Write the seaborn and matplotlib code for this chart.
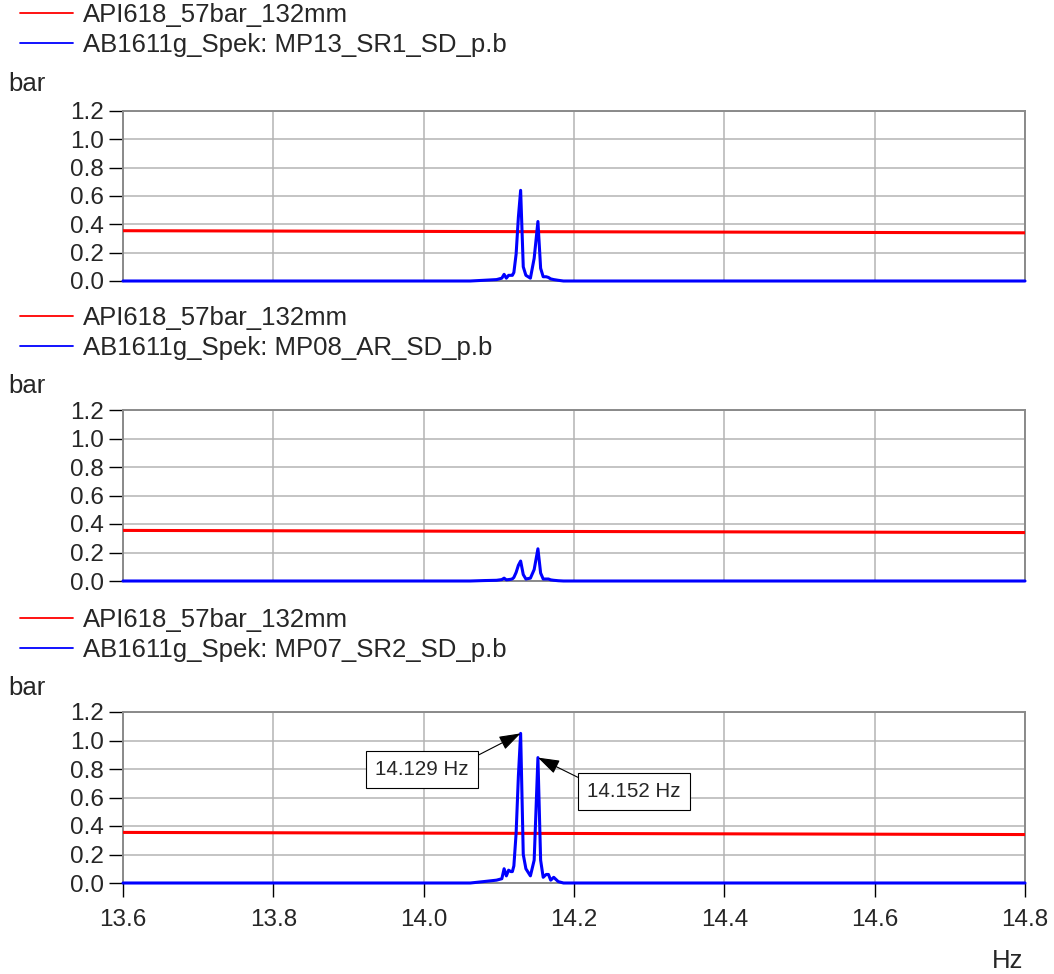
import matplotlib
matplotlib.use("Agg")
import matplotlib.pyplot as plt
import seaborn as sns
import pandas as pd

# ---------------- data ----------------
limit_freq = [13.6, 14.8]
limit_vals = [0.355, 0.340]          # API618_57bar_132mm

freq = [13.600, 14.062, 14.080, 14.097, 14.104, 14.107, 14.110, 14.113, 14.116,
        14.118, 14.120, 14.123, 14.126, 14.129, 14.1325, 14.136, 14.142, 14.147,
        14.152, 14.1556, 14.159, 14.163, 14.166, 14.169, 14.173, 14.179, 14.186, 14.800]

mp13 = [0, 0, 0.005, 0.01, 0.02, 0.047, 0.02, 0.04, 0.04, 0.04, 0.06, 0.19, 0.45,
        0.64, 0.10, 0.04, 0.02, 0.16, 0.42, 0.09, 0.03, 0.03, 0.025, 0.015, 0.01,
        0.005, 0, 0]
mp08 = [0, 0, 0.003, 0.005, 0.01, 0.02, 0.008, 0.01, 0.012, 0.015, 0.025, 0.06,
        0.11, 0.14, 0.045, 0.014, 0.02, 0.08, 0.226, 0.056, 0.014, 0.014, 0.014,
        0.008, 0.005, 0.002, 0, 0]
mp07 = [0, 0, 0.01, 0.02, 0.03, 0.10, 0.05, 0.09, 0.08, 0.08, 0.12, 0.35, 0.75,
        1.05, 0.20, 0.10, 0.05, 0.16, 0.88, 0.16, 0.04, 0.06, 0.06, 0.02, 0.04,
        0.01, 0, 0]

limit_label = "API618_57bar_132mm"
series_labels = ["AB1611g_Spek: MP13_SR1_SD_p.b",
                 "AB1611g_Spek: MP08_AR_SD_p.b",
                 "AB1611g_Spek: MP07_SR2_SD_p.b"]
series_values = [mp13, mp08, mp07]

x_ticks = [13.6, 13.8, 14.0, 14.2, 14.4, 14.6, 14.8]
y_ticks = [0.0, 0.2, 0.4, 0.6, 0.8, 1.0, 1.2]
annotations = [("14.129 Hz", 14.129, 1.05, 13.998, 0.797, (1, 1)),
               ("14.152 Hz", 14.152, 0.88, 14.280, 0.642, (0, 1))]

# ---------------- style ----------------
sns.set_style("white")
plt.rcParams['font.family'] = ['Liberation Sans', 'DejaVu Sans']

W, H = 1054, 974
fig = plt.figure(figsize=(W / 100, H / 100), dpi=100)

left_px, right_px = 123, 1025
panel_tops = [111, 410, 712]
panel_bots = [281, 581, 883]
legend_tops = [3, 306, 608]
bar_y = [84, 386, 688]

FS_LEG = 18.5
FS_TICK = 17.5

for i in range(3):
    ax = fig.add_axes([left_px / W, 1 - panel_bots[i] / H,
                       (right_px - left_px) / W, (panel_bots[i] - panel_tops[i]) / H])
    df_lim = pd.DataFrame({"f": limit_freq, "v": limit_vals})
    df_s = pd.DataFrame({"f": freq, "v": series_values[i]})
    sns.lineplot(data=df_lim, x="f", y="v", ax=ax, color="#ff0000", linewidth=2.2,
                 label=limit_label, estimator=None, sort=False, zorder=3)
    sns.lineplot(data=df_s, x="f", y="v", ax=ax, color="#0000ff", linewidth=2.2,
                 label=series_labels[i], estimator=None, sort=False, zorder=4,
                 clip_on=False)
    ax.set_xlim(13.6, 14.8)
    ax.set_ylim(0, 1.2)
    ax.set_xticks(x_ticks)
    ax.set_yticks(y_ticks)
    ax.set_yticklabels([f"{v:.1f}" for v in y_ticks])
    ax.set_xlabel("")
    ax.set_ylabel("")
    ax.grid(True, color="#b4b4b4", linewidth=1.1)
    ax.set_axisbelow(True)
    for sp in ax.spines.values():
        sp.set_color("#8a8a8a")
        sp.set_linewidth(1.4)
    ax.tick_params(axis="y", direction="out", length=10, width=1, color="black",
                   labelsize=FS_TICK, pad=4, left=True)
    if i == 2:
        ax.set_xticklabels([f"{v:.1f}" for v in x_ticks])
        ax.tick_params(axis="x", direction="out", length=10, width=1, color="black",
                       labelsize=FS_TICK, pad=9, bottom=True)
    else:
        ax.tick_params(axis="x", bottom=False, labelbottom=False)

    leg = ax.legend(loc="upper left", bbox_to_anchor=(20 / W, 1 - legend_tops[i] / H),
                    bbox_transform=fig.transFigure, frameon=False, borderpad=0,
                    borderaxespad=0, handlelength=2.05, handletextpad=0.4,
                    labelspacing=0.25, fontsize=FS_LEG)
    for ln in leg.get_lines():
        ln.set_linewidth(1.3)

    fig.text(8 / W, 1 - bar_y[i] / H, "bar", fontsize=FS_LEG, ha="left", va="center")

    if i == 2:
        for txt, px, py, tx, ty, rp in annotations:
            ax.annotate(txt, xy=(px, py), xytext=(tx, ty), textcoords="data",
                        fontsize=14.8, ha="center", va="center", zorder=6,
                        bbox=dict(boxstyle="square,pad=0.45", fc="white", ec="black", lw=0.8),
                        arrowprops=dict(arrowstyle="-|>,head_length=0.9,head_width=0.3",
                                        color="black", lw=0.8, relpos=rp,
                                        shrinkA=0, shrinkB=0))

fig.text(1008 / W, 1 - 961 / H, "Hz", fontsize=FS_LEG, ha="center", va="center")

fig.savefig("out.png", dpi=100)
